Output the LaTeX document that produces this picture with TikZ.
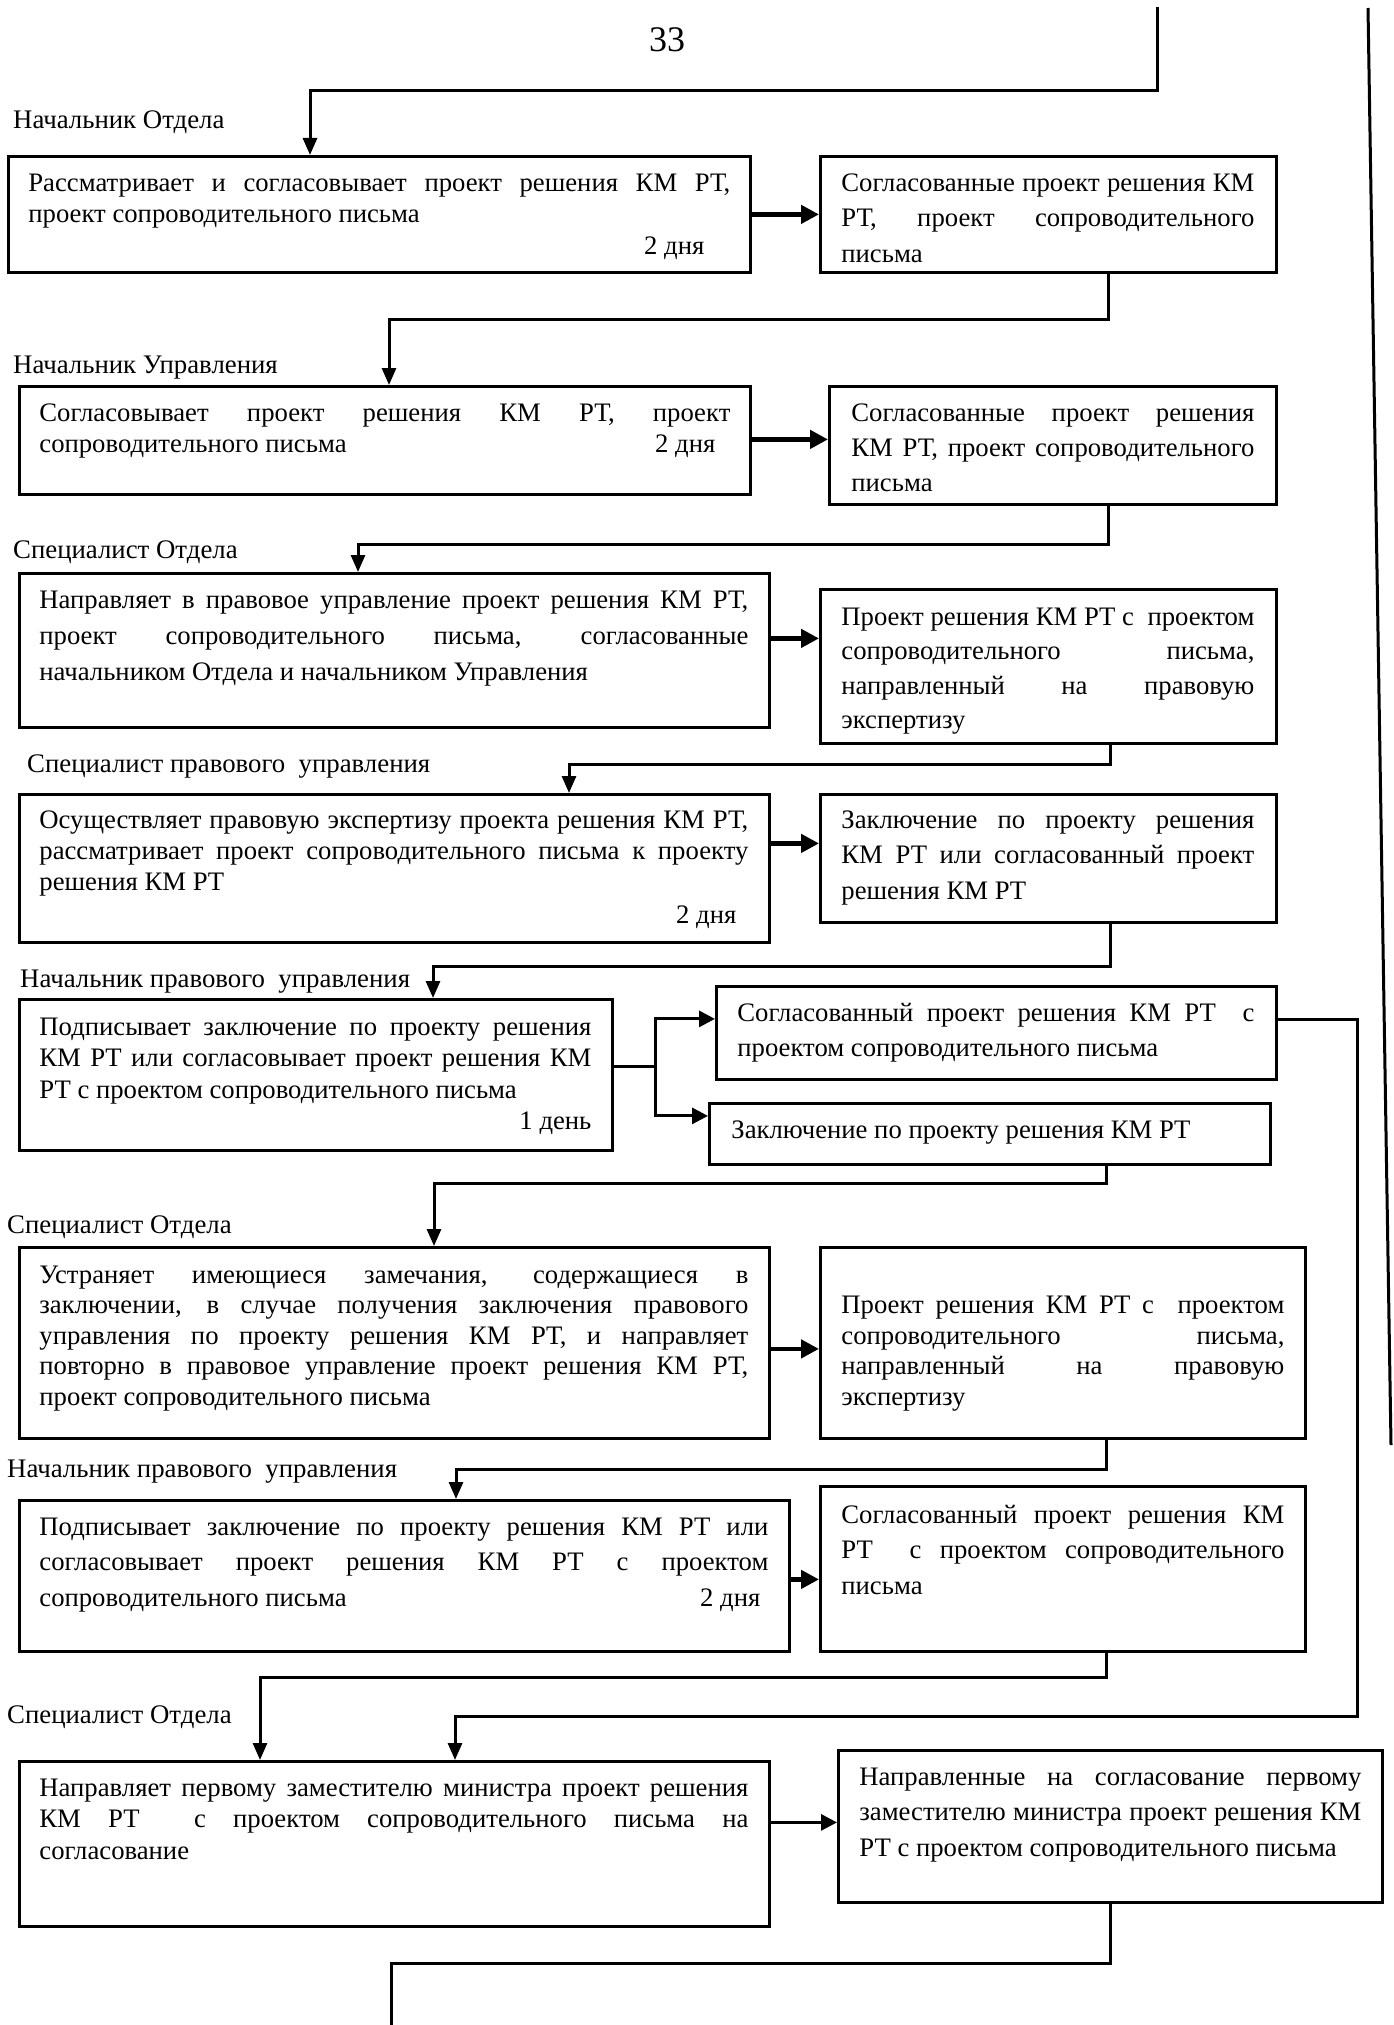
\documentclass[tikz,border=0pt]{standalone}
\usepackage{fontspec}
\setmainfont{Liberation Serif}
\usetikzlibrary{arrows.meta}
% #1 width, #2 height, #3 left pad, #4 right pad, #5 first baseline, #6 baselineskip, #7 text
\newcommand\bxt[7]{\parbox[t][#2][t]{#1}{\fontsize{26.7}{#6}\selectfont\leftskip=#3\rightskip=#4\relax\hyphenpenalty=10000\exhyphenpenalty=10000\tolerance=10000\noindent\rule{0pt}{#5}#7\par}}
\tikzset{
  bx/.style={draw, line width=2.8pt, inner sep=0pt, anchor=north west},
  lbl/.style={inner sep=0pt, anchor=west, font=\fontsize{26.8}{30}\selectfont},
  conn/.style={line width=3pt},
  dtip/.style={-{Triangle[length=17pt,width=14pt]}},
  btip/.style={line width=3pt,-{Triangle[length=16pt,width=16pt]}},
  thk/.style={line width=4.8pt,-{Triangle[length=18pt,width=18pt]}}
}
\begin{document}
\begin{tikzpicture}[x=1pt,y=-1pt]
\fill[white] (0,0) rectangle (1393,2025);
\useasboundingbox (0,0) rectangle (1393,2025);

\node (pg) at (667,40) {\fontsize{36}{40}\selectfont 33};

% labels
\node[lbl] (l1) at (13,122) {Начальник Отдела};
\node[lbl] (l2) at (13,368) {Начальник Управления};
\node[lbl] (l3) at (13,552) {Специалист Отдела};
\node[lbl] (l4) at (27,767) {Специалист правового\ \ управления};
\node[lbl] (l5) at (20,982) {Начальник правового\ \ управления};
\node[lbl] (l6) at (7,1227) {Специалист Отдела};
\node[lbl] (l7) at (7,1472) {Начальник правового\ \ управления};
\node[lbl] (l8) at (7,1717) {Специалист Отдела};

% boxes
\node[bx] (b1) at (7,155) {\bxt{742pt}{116pt}{20pt}{20pt}{35pt}{31.5pt}{Рассматривает и согласовывает проект решения КМ РТ,\linebreak проект сопроводительного письма\\ \hspace*{\fill}2 дня\hspace*{26pt}}};
\node[bx] (b2) at (819,155) {\bxt{456pt}{116pt}{21pt}{22pt}{35pt}{35.5pt}{Согласованные проект решения КМ\linebreak РТ, проект сопроводительного\linebreak письма}};
\node[bx] (b3) at (18,385) {\bxt{731pt}{108pt}{20pt}{20pt}{35pt}{31.5pt}{Согласовывает проект решения КМ РТ, проект\linebreak сопроводительного письма\hfill 2 дня\hspace*{15pt}}};
\node[bx] (b4) at (828,385) {\bxt{447pt}{118pt}{22pt}{22pt}{35pt}{35pt}{Согласованные проект решения\linebreak КМ РТ, проект сопроводительного\linebreak письма}};
\node[bx] (b5) at (18,572) {\bxt{750pt}{154pt}{20pt}{21pt}{35pt}{36pt}{Направляет в правовое управление проект решения КМ РТ,\linebreak проект сопроводительного письма, согласованные\linebreak начальником Отдела и начальником Управления}};
\node[bx] (b6) at (819,588) {\bxt{456pt}{154pt}{21pt}{22pt}{36pt}{34.5pt}{Проект решения КМ РТ с\ \ проектом\linebreak сопроводительного письма,\linebreak направленный на правовую\linebreak экспертизу}};
\node[bx] (b7) at (18,793) {\bxt{750pt}{148pt}{20pt}{21pt}{34pt}{31pt}{Осуществляет правовую экспертизу проекта решения КМ РТ,\linebreak рассматривает проект сопроводительного письма к проекту\linebreak решения КМ РТ\\[2pt] \hspace*{\fill}2 дня\hspace*{12pt}}};
\node[bx] (b8) at (819,793) {\bxt{456pt}{128pt}{21pt}{22pt}{34pt}{35.5pt}{Заключение по проекту решения\linebreak КМ РТ или согласованный проект\linebreak решения КМ РТ}};
\node[bx] (b9) at (18,998) {\bxt{593pt}{151pt}{20pt}{21pt}{36pt}{31.5pt}{Подписывает заключение по проекту решения\linebreak КМ РТ или согласовывает проект решения КМ\linebreak РТ с проектом сопроводительного письма\\ \hspace*{\fill}1 день}};
\node[bx] (b10) at (715,985) {\bxt{560pt}{93pt}{21pt}{22pt}{35pt}{35pt}{Согласованный проект решения КМ РТ\ \ с\linebreak проектом сопроводительного письма}};
\node[bx] (b11) at (708,1102) {\bxt{561pt}{61pt}{22pt}{22pt}{35pt}{35pt}{Заключение по проекту решения КМ РТ}};
\node[bx] (b12) at (18,1246) {\bxt{750pt}{191pt}{20pt}{21pt}{36pt}{30.5pt}{Устраняет имеющиеся замечания, содержащиеся в\linebreak заключении, в случае получения заключения правового\linebreak управления по проекту решения КМ РТ, и направляет\linebreak повторно в правовое управление проект решения КМ РТ,\linebreak проект сопроводительного письма}};
\node[bx] (b13) at (819,1246) {\bxt{485pt}{191pt}{21pt}{21pt}{66pt}{30.7pt}{Проект решения КМ РТ с\ \ проектом\linebreak сопроводительного письма,\linebreak направленный на правовую\linebreak экспертизу}};
\node[bx] (b14) at (18,1499) {\bxt{770pt}{151pt}{20pt}{21pt}{35pt}{35.5pt}{Подписывает заключение по проекту решения КМ РТ или\linebreak согласовывает проект решения КМ РТ с проектом\linebreak сопроводительного письма\hfill 2 дня\hspace*{8pt}}};
\node[bx] (b15) at (819,1485) {\bxt{485pt}{165pt}{21pt}{21pt}{37pt}{35.5pt}{Согласованный проект решения КМ\linebreak РТ\ \ с проектом сопроводительного\linebreak письма}};
\node[bx] (b16) at (18,1760) {\bxt{750pt}{165pt}{20pt}{21pt}{35pt}{31.5pt}{Направляет первому заместителю министра проект решения\linebreak КМ РТ\ \ с проектом сопроводительного письма на\linebreak согласование}};
\node[bx] (b17) at (837,1749) {\bxt{544pt}{152pt}{21pt}{21pt}{35pt}{35.5pt}{Направленные на согласование первому\linebreak заместителю министра проект решения КМ\linebreak РТ\ с проектом сопроводительного письма}};

% free ends
\coordinate (top) at (1157,7);
\coordinate (bot) at (391,2025);
\coordinate (s1) at (1368,8);
\coordinate (s2) at (1391,1445);
\draw[conn] (s1) -- (s2);

% connectors
\draw[conn,dtip] (top) -- ++(0,84) -| ([xshift=303pt]b1.north west);
\draw[thk] (b1.east) -- (b2.west);
\draw[conn,dtip] ([xshift=289pt]b2.south west) -- ++(0,46) -| ([xshift=371pt]b3.north west);
\draw[thk] ([yshift=1pt]b3.east) -- ([yshift=1pt]b3.east -| b4.west);
\draw[conn,dtip] ([xshift=280pt]b4.south west) -- ++(0,39) -| ([xshift=340pt]b5.north west);
\draw[thk] ([yshift=12pt]b5.east) -- ([yshift=12pt]b5.east -| b6.west);
\draw[conn,dtip] ([xshift=291pt]b6.south west) -- ++(0,20) -| ([xshift=551pt]b7.north west);
\draw[thk] ([yshift=25pt]b7.east) -- ([yshift=25pt]b7.east -| b8.west);
\draw[conn,dtip] ([xshift=291pt]b8.south west) -- ++(0,43) -| ([xshift=415pt]b9.north west);
\coordinate (sp) at ([xshift=42pt,yshift=8pt]b9.east);
\draw[conn] ([yshift=8pt]b9.east) -- (sp);
\draw[btip] (sp) |- ([yshift=14pt]b10.west);
\draw[btip] (sp) |- ([yshift=18pt]b11.west);
\draw[conn,dtip] ([yshift=13pt]b10.east) -- ++(80,0) |- ([xshift=437pt,yshift=44pt]b16.north west) -- ([xshift=437pt]b16.north west);
\draw[conn,dtip] ([xshift=398pt]b11.south west) -- ++(0,18) -| ([xshift=416pt]b12.north west);
\draw[thk] ([yshift=-6pt]b12.east) -- ([yshift=-6pt]b12.east -| b13.west);
\draw[conn,dtip] ([xshift=287pt]b13.south west) -- ++(0,30) -| ([xshift=438pt]b14.north west);
\draw[thk] ([yshift=-3.5pt]b14.east) -- ([yshift=-3.5pt]b14.east -| b15.west);
\draw[conn,dtip] ([xshift=287pt]b15.south west) -- ++(0,25) -| ([xshift=242pt]b16.north west);
\draw[btip] ([yshift=21.5pt]b16.east) -- ([yshift=21.5pt]b16.east -| b17.west);
\draw[conn] ([xshift=273pt]b17.south west) -- ++(0,60) -| (bot);
\end{tikzpicture}
\end{document}
